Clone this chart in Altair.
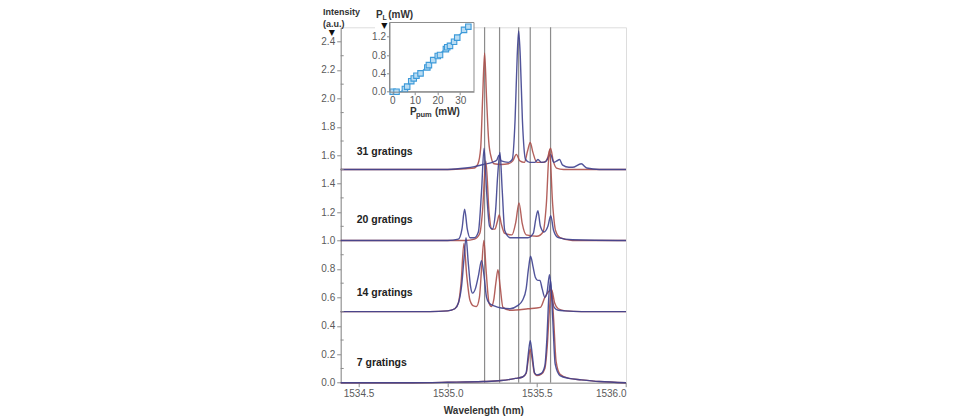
import altair as alt
import pandas as pd

# ---------------- data ----------------
R31_WL = [1534.40, 1535.00, 1535.10, 1535.15, 1535.17, 1535.185, 1535.196, 1535.207, 1535.218, 1535.23,
          1535.245, 1535.26, 1535.30, 1535.34, 1535.365, 1535.385, 1535.405, 1535.43, 1535.448, 1535.463,
          1535.478, 1535.50, 1535.54, 1535.56, 1535.577, 1535.592, 1535.61, 1535.65, 1536.00]
R31_I = [1.5, 1.5, 1.505, 1.51, 1.54, 1.65, 2.0, 2.32, 2.0, 1.7,
         1.58, 1.54, 1.535, 1.54, 1.56, 1.606, 1.56, 1.55, 1.63, 1.69,
         1.62, 1.55, 1.55, 1.58, 1.65, 1.56, 1.51, 1.5, 1.5]

B31_WL = [1534.40, 1535.00, 1535.10, 1535.15, 1535.20, 1535.25, 1535.275, 1535.288, 1535.30, 1535.34,
          1535.362, 1535.378, 1535.39, 1535.398, 1535.407, 1535.419, 1535.437, 1535.46, 1535.49, 1535.506,
          1535.525, 1535.55, 1535.577, 1535.595, 1535.612, 1535.627, 1535.645, 1535.68, 1535.70, 1535.749,
          1535.78, 1535.85, 1536.00]
B31_I = [1.5, 1.5, 1.51, 1.52, 1.535, 1.55, 1.565, 1.6, 1.56, 1.55,
         1.57, 1.85, 2.3, 2.475, 2.3, 1.85, 1.57, 1.55, 1.55, 1.57,
         1.55, 1.555, 1.606, 1.55, 1.56, 1.57, 1.53, 1.515, 1.515, 1.54,
         1.51, 1.5, 1.5]

R20_WL = [1534.40, 1535.00, 1535.10, 1535.15, 1535.18, 1535.195, 1535.214, 1535.232, 1535.248, 1535.265,
          1535.278, 1535.289, 1535.30, 1535.32, 1535.36, 1535.382, 1535.40, 1535.418, 1535.44, 1535.50,
          1535.535, 1535.553, 1535.571, 1535.589, 1535.605, 1535.63, 1535.70, 1536.00]
R20_I = [1.0, 1.0, 1.0, 1.01, 1.05, 1.2, 1.56, 1.2, 1.08, 1.08,
         1.13, 1.18, 1.12, 1.05, 1.04, 1.13, 1.265, 1.12, 1.04, 1.03,
         1.06, 1.25, 1.64, 1.25, 1.07, 1.02, 1.0, 1.0]

B20_WL = [1534.40, 1535.00, 1535.06, 1535.08, 1535.095, 1535.11, 1535.125, 1535.15, 1535.172, 1535.19,
          1535.204, 1535.218, 1535.235, 1535.25, 1535.268, 1535.28, 1535.293, 1535.306, 1535.32, 1535.35,
          1535.45, 1535.48, 1535.494, 1535.506, 1535.52, 1535.54, 1535.562, 1535.578, 1535.594, 1535.62,
          1535.70, 1536.00]
B20_I = [1.0, 1.0, 1.01, 1.08, 1.22, 1.08, 1.02, 1.02, 1.06, 1.35,
         1.65, 1.35, 1.1, 1.08, 1.2, 1.45, 1.62, 1.35, 1.07, 1.02,
         1.02, 1.05, 1.15, 1.21, 1.1, 1.06, 1.1, 1.175, 1.07, 1.02,
         1.005, 1.0]

R14_WL = [1534.40, 1534.90, 1535.00, 1535.04, 1535.06, 1535.075, 1535.091, 1535.107, 1535.125, 1535.145,
          1535.161, 1535.178, 1535.191, 1535.203, 1535.216, 1535.232, 1535.245, 1535.258, 1535.270, 1535.282,
          1535.294, 1535.31, 1535.35, 1535.45, 1535.52, 1535.545, 1535.565, 1535.583, 1535.60, 1535.62,
          1535.66, 1535.75, 1536.00]
R14_I = [0.5, 0.5, 0.505, 0.52, 0.56, 0.7, 0.98, 0.75, 0.58, 0.54,
         0.536, 0.6, 0.82, 1.0, 0.78, 0.56, 0.536, 0.58, 0.7, 0.795,
         0.68, 0.53, 0.51, 0.52, 0.53, 0.6, 0.64, 0.654, 0.56, 0.52,
         0.505, 0.5, 0.5]

B14_WL = [1534.40, 1534.90, 1535.00, 1535.04, 1535.06, 1535.078, 1535.092, 1535.103, 1535.115, 1535.128,
          1535.14, 1535.155, 1535.172, 1535.19, 1535.205, 1535.218, 1535.232, 1535.26, 1535.30, 1535.35,
          1535.39, 1535.42, 1535.44, 1535.453, 1535.465, 1535.478, 1535.492, 1535.505, 1535.517, 1535.53,
          1535.545, 1535.558, 1535.571, 1535.583, 1535.597, 1535.62, 1535.66, 1535.75, 1536.00]
B14_I = [0.5, 0.5, 0.505, 0.52, 0.56, 0.68, 0.88, 1.02, 0.85, 0.68,
         0.63, 0.66, 0.75, 0.858, 0.74, 0.6, 0.56, 0.54, 0.525, 0.52,
         0.54, 0.58, 0.66, 0.8, 0.889, 0.82, 0.74, 0.72, 0.72, 0.66,
         0.6, 0.64, 0.76, 0.62, 0.53, 0.51, 0.505, 0.5, 0.5]

R7_WL = [1534.40, 1534.80, 1535.00, 1535.20, 1535.30, 1535.38, 1535.42, 1535.44, 1535.452, 1535.463,
         1535.474, 1535.487, 1535.50, 1535.525, 1535.545, 1535.558, 1535.570, 1535.582, 1535.594, 1535.608,
         1535.63, 1535.68, 1535.75, 1535.85, 1536.00]
R7_I = [0.0, 0.0, 0.003, 0.008, 0.015, 0.03, 0.04, 0.065, 0.16, 0.235,
        0.16, 0.065, 0.05, 0.06, 0.1, 0.25, 0.5, 0.66, 0.45, 0.15,
        0.06, 0.03, 0.02, 0.008, 0.0]

B7_WL = [1534.40, 1534.80, 1535.00, 1535.20, 1535.30, 1535.38, 1535.42, 1535.44, 1535.452, 1535.463,
         1535.474, 1535.487, 1535.50, 1535.525, 1535.545, 1535.556, 1535.567, 1535.577, 1535.589, 1535.603,
         1535.63, 1535.68, 1535.75, 1535.85, 1536.00]
B7_I = [0.0, 0.0, 0.003, 0.008, 0.015, 0.03, 0.04, 0.07, 0.2, 0.296,
        0.2, 0.07, 0.055, 0.065, 0.12, 0.3, 0.6, 0.72, 0.45, 0.13,
        0.05, 0.03, 0.02, 0.008, 0.0]

LASER_LINES = [1535.207, 1535.291, 1535.398, 1535.463, 1535.577]

LABEL_TEXT = ["31 gratings", "20 gratings", "14 gratings", "7 gratings"]
LABEL_Y = [1.62, 1.142, 0.63, 0.14]
LABEL_X = [1534.49, 1534.49, 1534.49, 1534.49]

X_TICKS = [1534.5, 1535.0, 1535.5, 1536.0]
Y_TICKS = [0.0, 0.2, 0.4, 0.6, 0.8, 1.0, 1.2, 1.4, 1.6, 1.8, 2.0, 2.2, 2.4]
Y_MINOR = [0.1, 0.3, 0.5, 0.7, 0.9, 1.1, 1.3, 1.5, 1.7, 1.9, 2.1, 2.3]

# inset: laser output power vs pump power
PUMP = [0.2, 1.9, 5.6, 6.6, 8.4, 9.5, 10.7, 12.5, 15.5, 16.2, 18.1, 20.1, 21.1, 23.7, 24.3, 25.5, 27.3, 28.7, 31.7, 33.6]
POWER = [0.0, 0.0, 0.06, 0.11, 0.23, 0.29, 0.35, 0.40, 0.53, 0.58, 0.69, 0.78, 0.80, 0.93, 0.97, 1.0, 1.09, 1.18, 1.35, 1.42]
FIT_X = [0.0, 4.0, 33.6]
FIT_Y = [0.0, 0.0, 1.43]
INSET_X_TICKS = [0, 10, 20, 30]
INSET_Y_TICKS = [0.0, 0.4, 0.8, 1.2]

# ---------------- layout / style ----------------
W, H = 285.3, 355.4
RED = "#ab4f4a"
BLUE = "#3e418f"
GRAY = "#8c8c8c"
LABEL = "#5a5a5a"
FONT = "Liberation Sans"

X_DOM = [1534.4, 1536.0]
Y_DOM = [0.0, 2.5]
IX_DOM = [-1.2, 36.1]
IY_DOM = [0.0, 1.511]
IX_RANGE = [48.8, 133.3]
IY_RANGE = [64.4, -4.8]

xs = alt.Scale(domain=X_DOM, nice=False, zero=False)
ys = alt.Scale(domain=Y_DOM, nice=False, zero=False)
x_axis = alt.Axis(values=X_TICKS, format=".1f", title="Wavelength (nm)", grid=False,
                  tickSize=4, labelPadding=2, labelFontSize=10, labelColor=LABEL,
                  tickColor=GRAY, domainColor=GRAY, titleFontSize=10, titleFontWeight="bold",
                  titleColor="#333333", titlePadding=7, labelFont=FONT, titleFont=FONT)
y_axis = alt.Axis(values=Y_TICKS, format=".1f", title=None, grid=False, tickSize=4,
                  labelPadding=2, labelFontSize=10, labelColor=LABEL, tickColor=GRAY,
                  domainColor=GRAY, labelFont=FONT)

ixs = alt.Scale(domain=IX_DOM, range=IX_RANGE, nice=False, zero=False)
iys = alt.Scale(domain=IY_DOM, range=IY_RANGE, nice=False, zero=False)
ix_axis = alt.Axis(orient="bottom", offset=-(H - IY_RANGE[0]), values=INSET_X_TICKS, format="d",
                   title=None, grid=False, tickSize=3, labelPadding=1, labelFontSize=10,
                   labelColor=LABEL, tickColor=GRAY, domainColor=GRAY, zindex=1, labelFont=FONT)
iy_axis = alt.Axis(orient="left", offset=-IX_RANGE[0], values=INSET_Y_TICKS, format=".1f",
                   title=None, grid=False, tickSize=3, labelPadding=1, labelFontSize=10,
                   labelColor=LABEL, tickColor=GRAY, domainColor=GRAY, zindex=1, labelFont=FONT)


def spec_df(wl, inten):
    return pd.DataFrame({"wl": wl, "I": inten})


def spectrum(wl, inten, color):
    return alt.Chart(spec_df(wl, inten)).mark_line(
        color=color, strokeWidth=1.4, interpolate="monotone", opacity=0.9
    ).encode(
        x=alt.X("wl:Q", scale=xs, axis=x_axis),
        y=alt.Y("I:Q", scale=ys, axis=y_axis),
    )


def txt(s, x, y, size=10, weight="bold", align="left", font=FONT, color="#333333", baseline="middle"):
    return alt.Chart(pd.DataFrame({"t": [s]})).mark_text(
        text=s, fontSize=size, fontWeight=weight, align=align, baseline=baseline,
        font=font, color=color
    ).encode(x=alt.value(x), y=alt.value(y))


vlines = alt.Chart(pd.DataFrame({"wl": LASER_LINES})).mark_rule(
    color=GRAY, strokeWidth=1.2
).encode(x=alt.X("wl:Q", scale=xs, axis=x_axis))

minor = alt.Chart(pd.DataFrame({"v": Y_MINOR})).mark_rule(color=GRAY, strokeWidth=1).encode(
    y=alt.Y("v:Q", scale=ys, axis=y_axis), x=alt.value(0), x2=alt.value(3)
)

labels = alt.Chart(pd.DataFrame({"x": LABEL_X, "y": LABEL_Y, "t": LABEL_TEXT})).mark_text(
    align="left", baseline="middle", fontSize=10.5, fontWeight="bold", font=FONT, color="#222222"
).encode(
    x=alt.X("x:Q", scale=xs, axis=x_axis),
    y=alt.Y("y:Q", scale=ys, axis=y_axis),
    text="t:N",
)

series = [
    spectrum(R31_WL, R31_I, RED), spectrum(B31_WL, B31_I, BLUE),
    spectrum(R20_WL, R20_I, RED), spectrum(B20_WL, B20_I, BLUE),
    spectrum(R14_WL, R14_I, RED), spectrum(B14_WL, B14_I, BLUE),
    spectrum(R7_WL, R7_I, RED), spectrum(B7_WL, B7_I, BLUE),
]

main = alt.layer(
    vlines, *series, minor, labels,
    txt("Intensity", -17.7, -19.3, size=9, baseline="top"),
    txt("(a.u.)", -17.7, -2.8, size=9),
    txt("\u25bc", -9, 5.6, size=8, font="DejaVu Sans", align="center", color="#111111"),
)

# inset
panel = alt.Chart(pd.DataFrame({"x0": [-7.6], "x1": [IX_DOM[1]], "y0": [-0.45], "y1": [IY_DOM[1]]})).mark_rect(
    fill="white"
).encode(
    x=alt.X("x0:Q", scale=ixs, axis=ix_axis), x2="x1:Q",
    y=alt.Y("y0:Q", scale=iys, axis=iy_axis), y2="y1:Q",
)
frame = alt.Chart(pd.DataFrame({"x0": [IX_DOM[0]], "x1": [IX_DOM[1]], "y0": [IY_DOM[0]], "y1": [IY_DOM[1]]})).mark_rect(
    fillOpacity=0, stroke=GRAY, strokeWidth=1
).encode(
    x=alt.X("x0:Q", scale=ixs, axis=ix_axis), x2="x1:Q",
    y=alt.Y("y0:Q", scale=iys, axis=iy_axis), y2="y1:Q",
)
fit = alt.Chart(pd.DataFrame({"p": FIT_X, "o": FIT_Y})).mark_line(color="#3d9ad9", strokeWidth=1.3).encode(
    x=alt.X("p:Q", scale=ixs, axis=ix_axis), y=alt.Y("o:Q", scale=iys, axis=iy_axis)
)
pts = alt.Chart(pd.DataFrame({"p": PUMP, "o": POWER})).mark_square(
    size=30, fill="#b9dcf3", stroke="#3d9ad9", strokeWidth=1.1, opacity=1
).encode(
    x=alt.X("p:Q", scale=ixs, axis=ix_axis), y=alt.Y("o:Q", scale=iys, axis=iy_axis)
)

inset = alt.layer(
    panel, frame, fit, pts,
    txt("P", 35.3, -12.5), txt("L", 41.8, -9.6, size=7), txt("(mW)", 47.5, -12.5),
    txt("\u25bc", 43.6, -1.6, size=8, font="DejaVu Sans", align="center", color="#111111"),
    txt("P", 69.3, 84.4), txt("pum", 75.2, 87.5, size=7.5), txt("(mW)", 94.3, 84.4),
)

chart = alt.layer(main, inset).resolve_scale(
    x="independent", y="independent"
).properties(
    width=W, height=H,
    autosize=alt.AutoSizeParams(type="none"),
    padding={"left": 332.7, "top": 19.3, "right": 20, "bottom": 40},
    background="white",
).configure_view(stroke=GRAY, strokeWidth=1).configure(font=FONT)

chart.save("out.html", embed_options={"renderer": "svg", "actions": False})
